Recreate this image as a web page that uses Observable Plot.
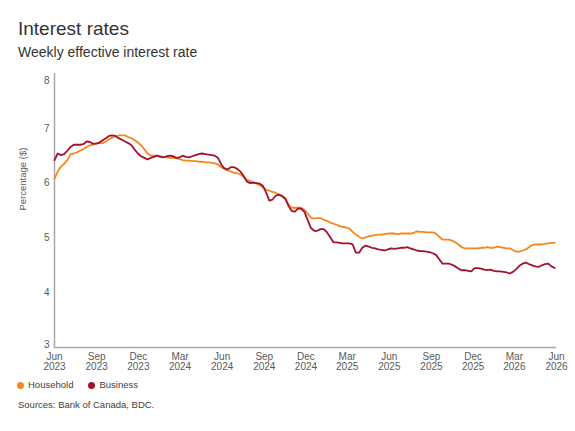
<!DOCTYPE html>
<html>
<head>
<meta charset="utf-8">
<script src="https://cdn.jsdelivr.net/npm/d3@7"></script>
<script src="https://cdn.jsdelivr.net/npm/@observablehq/plot@0.6"></script>
<style>
  html, body { margin: 0; padding: 0; background: #fff; }
  body { width: 575px; height: 431px; overflow: hidden; font-family: "Liberation Sans", Arial, sans-serif; }
  .title { margin: 18px 0 0 18px; font-size: 19px; line-height: 22px; color: #333; }
  .subtitle { margin: 4px 0 0 18px; font-size: 14px; line-height: 17px; color: #333; }
  #chart { margin-top: 3px; }
  .legend { margin: 5px 0 0 17px; font-size: 9.5px; line-height: 12px; color: #404040; display: flex; gap: 15px; }
  .legend span { display: inline-flex; align-items: center; }
  .legend i { display: inline-block; width: 7px; height: 7px; border-radius: 50%; margin-right: 4px; }
  .source { margin: 8px 0 0 18px; font-size: 9.5px; line-height: 12px; color: #404040; }
</style>
</head>
<body>
<div class="title">Interest rates</div>
<div class="subtitle">Weekly effective interest rate</div>
<div id="chart"></div>
<div class="legend" id="legend"></div>
<div class="source">Sources: Bank of Canada, BDC.</div>
<script>
// Weekly series, one value per week starting 1 June 2023
const firstWeek = "2023-06-01";
const seriesNames = ["Household", "Business"];
const seriesColors = ["#f7861e", "#a3122f"];

const household = [
  6.08, 6.21, 6.30, 6.35, 6.42, 6.53, 6.54, 6.56, 6.59, 6.62,
  6.66, 6.69, 6.70, 6.72, 6.73, 6.73, 6.76, 6.80, 6.83, 6.85,
  6.87, 6.87, 6.87, 6.84, 6.82, 6.78, 6.74, 6.69, 6.62, 6.54,
  6.50, 6.50, 6.50, 6.49, 6.48, 6.47, 6.46, 6.46, 6.45, 6.44,
  6.42, 6.41, 6.41, 6.40, 6.40, 6.39, 6.39, 6.38, 6.38, 6.37,
  6.36, 6.34, 6.29, 6.26, 6.23, 6.21, 6.19, 6.18, 6.16, 6.11,
  6.06, 6.04, 6.01, 5.99, 5.96, 5.92, 5.88, 5.86, 5.84, 5.82,
  5.79, 5.77, 5.72, 5.61, 5.55, 5.55, 5.55, 5.55, 5.51, 5.44,
  5.37, 5.35, 5.36, 5.36, 5.33, 5.31, 5.28, 5.26, 5.24, 5.21,
  5.20, 5.19, 5.17, 5.11, 5.06, 5.02, 4.99, 5.01, 5.03, 5.04,
  5.05, 5.06, 5.06, 5.07, 5.08, 5.08, 5.08, 5.07, 5.08, 5.08,
  5.08, 5.08, 5.09, 5.12, 5.11, 5.11, 5.10, 5.10, 5.10, 5.08,
  5.02, 4.97, 4.97, 4.97, 4.95, 4.92, 4.88, 4.83, 4.81, 4.81,
  4.81, 4.81, 4.81, 4.82, 4.82, 4.83, 4.82, 4.82, 4.84, 4.83,
  4.82, 4.81, 4.81, 4.78, 4.75, 4.75, 4.77, 4.79, 4.83, 4.87,
  4.88, 4.88, 4.88, 4.89, 4.90, 4.91, 4.91
];

const business = [
  6.42, 6.54, 6.51, 6.53, 6.59, 6.66, 6.70, 6.70, 6.70, 6.71,
  6.76, 6.75, 6.72, 6.72, 6.74, 6.78, 6.82, 6.86, 6.87, 6.86,
  6.82, 6.79, 6.76, 6.73, 6.69, 6.61, 6.54, 6.49, 6.46, 6.43,
  6.46, 6.48, 6.50, 6.48, 6.47, 6.49, 6.50, 6.49, 6.46, 6.47,
  6.50, 6.48, 6.47, 6.49, 6.51, 6.53, 6.54, 6.53, 6.52, 6.51,
  6.50, 6.46, 6.34, 6.27, 6.25, 6.29, 6.29, 6.26, 6.21, 6.13,
  6.03, 6.00, 6.01, 6.00, 5.99, 5.95, 5.83, 5.68, 5.70, 5.77,
  5.79, 5.76, 5.71, 5.58, 5.49, 5.48, 5.54, 5.53, 5.47, 5.32,
  5.18, 5.13, 5.13, 5.16, 5.16, 5.10, 5.01, 4.92, 4.92, 4.91,
  4.90, 4.90, 4.90, 4.88, 4.73, 4.73, 4.82, 4.86, 4.84, 4.82,
  4.81, 4.79, 4.78, 4.77, 4.79, 4.81, 4.80, 4.81, 4.82, 4.82,
  4.83, 4.81, 4.79, 4.77, 4.76, 4.76, 4.75, 4.74, 4.72, 4.69,
  4.61, 4.53, 4.53, 4.53, 4.51, 4.48, 4.44, 4.41, 4.41, 4.40,
  4.39, 4.45, 4.45, 4.44, 4.42, 4.41, 4.42, 4.40, 4.39, 4.39,
  4.38, 4.37, 4.35, 4.38, 4.43, 4.49, 4.53, 4.55, 4.52, 4.50,
  4.48, 4.47, 4.50, 4.52, 4.53, 4.48, 4.45
];

// Quarterly ticks on the time axis, and the percentage ticks
const xTicks = [
  "2023-06-01", "2023-09-01", "2023-12-01", "2024-03-01", "2024-06-01",
  "2024-09-01", "2024-12-01", "2025-03-01", "2025-06-01", "2025-09-01",
  "2025-12-01", "2026-03-01", "2026-06-01"
];
const yTicks = [3, 4, 5, 6, 7, 8];
const yLabel = "Percentage ($)";

const parse = d3.utcParse("%Y-%m-%d");
const start = parse(firstWeek);
const tickDates = xTicks.map(parse);

const rows = [];
[household, business].forEach((vals, s) => {
  vals.forEach((v, i) => rows.push({ series: seriesNames[s], date: d3.utcDay.offset(start, 7 * i), value: v }));
});

const axisColor = "#a8a8a8";
const tickColor = "#595959";
const intFormat = d3.format("d");
const yAxisOpts = { tickSize: 0, tickPadding: 5, label: null, fill: tickColor, tickFormat: intFormat };

const chart = Plot.plot({
  width: 575,
  height: 310,
  marginTop: 9,
  marginBottom: 27,
  marginLeft: 54,
  marginRight: 19,
  style: { fontFamily: "'Liberation Sans', Arial, sans-serif", fontSize: "10px", color: tickColor, background: "#fff" },
  x: { type: "utc", domain: [tickDates[0], tickDates[tickDates.length - 1]] },
  y: { domain: [3, 8] },
  color: { domain: seriesNames, range: seriesColors },
  marks: [
    // end labels are nudged inward so they stay clear of the frame corners
    Plot.axisY(yTicks.slice(0, 1), { ...yAxisOpts, dy: -3 }),
    Plot.axisY(yTicks.slice(1, -1), yAxisOpts),
    Plot.axisY(yTicks.slice(-1), { ...yAxisOpts, dy: 7 }),
    Plot.axisX(tickDates, { tickSize: 0, tickPadding: 5, label: null, fill: tickColor, tickFormat: d3.utcFormat("%b\n%Y") }),
    Plot.text([yLabel], { frameAnchor: "left", rotate: -90, dx: -32, fontSize: 9.5, fill: tickColor }),
    Plot.ruleX([tickDates[0]], { stroke: axisColor, strokeWidth: 1.5 }),
    Plot.ruleY([3], { stroke: axisColor, strokeWidth: 1.5 }),
    Plot.lineY(rows, { x: "date", y: "value", stroke: "series", z: "series", strokeWidth: 1.8, curve: "linear" })
  ]
});
document.getElementById("chart").appendChild(chart);

// Legend built from the same names and colours
const legend = document.getElementById("legend");
seriesNames.forEach((name, i) => {
  const item = document.createElement("span");
  const dot = document.createElement("i");
  dot.style.background = seriesColors[i];
  item.appendChild(dot);
  item.appendChild(document.createTextNode(name));
  legend.appendChild(item);
});
</script>
</body>
</html>
